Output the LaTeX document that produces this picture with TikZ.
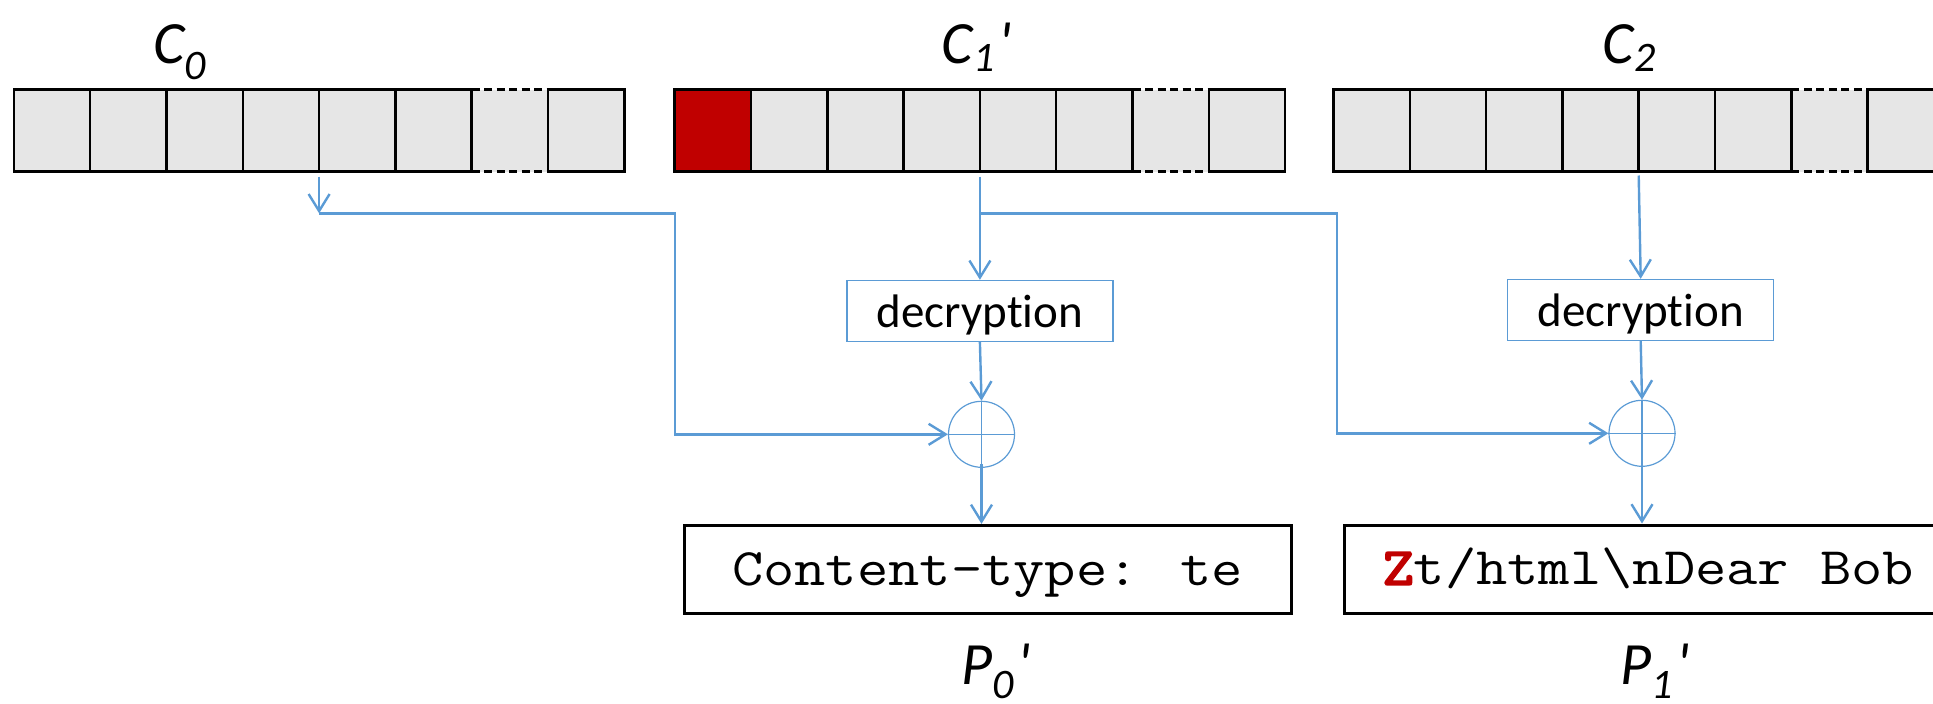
\documentclass[tikz,border=0pt]{standalone}
\usepackage{fontspec}
\usetikzlibrary{arrows.meta}
\newfontfamily\cali{Carlito}[Ligatures={TeXOff,CommonOff}]
\newfontfamily\cour{Latin Modern Mono}[FakeStretch=1.15]
\newfontfamily\courbold{Latin Modern Mono}[FakeStretch=1.15,FakeBold=4]
\definecolor{cellgray}{HTML}{E6E6E6}
\definecolor{flowblue}{HTML}{5B9BD5}
\definecolor{alertred}{HTML}{C00000}
\newcommand{\subsz}{\fontsize{42}{42}\selectfont}
\newcommand{\mainsz}{\fontsize{60}{60}\selectfont}

% outline of one ciphertext block: 8 cells, the 7th with dashed top and bottom
\newcommand{\cellgrid}[1]{%
  \begin{scope}[shift={(#1.north west)}]
    \foreach \k in {0,...,8} \draw[cellline] (\k*76.3,0) -- (\k*76.3,82);
    \draw[cellline] (0,0) -- (457.8,0) (534.1,0) -- (610.4,0);
    \draw[cellline] (0,82) -- (457.8,82) (534.1,82) -- (610.4,82);
    \draw[cellline,line cap=butt,dash pattern=on 8pt off 4.5pt]
      (457.8,0) -- (534.1,0) (457.8,82) -- (534.1,82);
  \end{scope}}

\begin{document}
\begin{tikzpicture}[x=1pt,y=-1pt,
  cellrow/.style={fill=cellgray, inner sep=0, outer sep=0, minimum width=610.4pt,
    minimum height=82pt, anchor=north west},
  cellline/.style={draw=black, line width=2.5pt, line cap=rect},
  wire/.style={draw=flowblue, line width=2.4pt},
  flow/.style={wire, -{Straight Barb[length=17pt,width=21pt]}},
  decbox/.style={draw=flowblue, line width=1.4pt, minimum width=266pt,
    minimum height=61pt, inner sep=0, text height=40pt, text depth=7.4pt,
    font={\cali\fontsize{47}{47}\selectfont}},
  xorop/.style={circle, draw=flowblue, line width=1.2pt, minimum size=66pt, inner sep=0},
  ptbox/.style={draw=black, line width=3pt, minimum width=607pt, minimum height=88pt,
    inner sep=0, text height=36pt, text depth=4.8pt,
    font={\cour\fontsize{52.8}{52.8}\selectfont}},
  lbl/.style={inner sep=0, anchor=base, font={\cali\itshape\mainsz}},
]
\useasboundingbox (0,0) rectangle (1933,704);
\clip (0,0) rectangle (1933,704);

% ciphertext blocks
\node[cellrow] (c0) at (13.9,89.5) {};
\node[cellrow] (c1) at (674.7,89.5) {};
\node[cellrow] (c2) at (1333.5,89.5) {};
\fill[alertred] (c1.north west) rectangle ++(76.3,82);
\cellgrid{c0}
\cellgrid{c1}
\cellgrid{c2}

% block labels
\node[lbl] (lc0) at (179.7,63) {C\raisebox{-16pt}{\subsz 0}};
\node[lbl] (lc1) at (976.7,63) {C\raisebox{-8pt}{\subsz 1}\kern4pt'};
\node[lbl] (lc2) at (1629,63) {C\raisebox{-8pt}{\subsz 2}};

% decryption and xor stages
\node[decbox] (d1) at (979.9,311) {decryption};
\node[decbox] (d2) at (1640.7,310) {decryption};
\node[xorop] (x1) at (981.5,434.3) {};
\node[xorop] (x2) at (1642,433.3) {};
\draw[flowblue, line width=1.2pt] (x1.north) -- (x1.south) (x1.west) -- (x1.east);
\draw[flowblue, line width=1.2pt] (x2.north) -- (x2.south) (x2.west) -- (x2.east);

% plaintext blocks
\node[ptbox] (p0) at (987.5,569.4) {Content-type: te};
\node[ptbox] (p1) at (1648.4,569) {{\courbold\color{alertred}Z}t/html\textbackslash nDear Bob};

\node[lbl] (lp0) at (995.8,684) {P\raisebox{-14pt}{\subsz 0}\kern4pt'};
\node[lbl] (lp1) at (1654.9,684) {P\raisebox{-14pt}{\subsz 1}\kern4pt'};

% junction points on the feed lines
\coordinate (j0) at (c0.south |- 0,213.3);
\coordinate (j1) at (c1.south |- 0,213.3);

% connectors
\draw[flow] ([yshift=-5pt]c0.south) -- (j0);
\draw[flow] (j0) -| (c1.south west |- x1.west) -- (x1.west);
\draw[flow] ([yshift=-5pt]c1.south) -- (d1.north);
\draw[flow] (j1) -| ([xshift=3.5pt]c2.south west |- x2.west) -- (x2.west);
\draw[flow] ([yshift=-4pt]c2.south) -- (d2.north);
\draw[flow] (d1.south) -- (x1.north);
\draw[flow] (d2.south) -- (x2.north);
\draw[flow] ([yshift=4pt]x1.south) -- (x1.south |- p0.north);
\draw[flow] ([yshift=4pt]x2.south) -- (x2.south |- p1.north);
\end{tikzpicture}
\end{document}
